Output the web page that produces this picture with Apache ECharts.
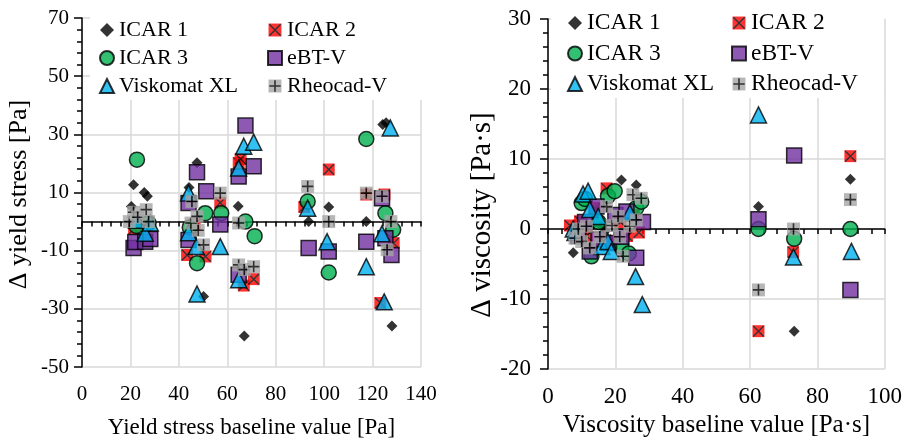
<!DOCTYPE html>
<html>
<head>
<meta charset="utf-8">
<script src="https://cdn.jsdelivr.net/npm/echarts@6/dist/echarts.min.js"></script>
<style>
  html, body { margin: 0; padding: 0; background: #fff; }
  #chart { width: 905px; height: 445px; }
</style>
</head>
<body>
<div id="chart"></div>
<script>
// Instrument names (legend order)
const instruments = ['ICAR 1', 'ICAR 2', 'ICAR 3', 'eBT-V', 'Viskomat XL', 'Rheocad-V'];

// Left panel: yield stress baseline [Pa] vs Δ yield stress [Pa]
const yieldIcar1 = [[20.4,5.2],[21.3,12.7],[25.7,10],[27,8.7],[44.2,11.7],[47.5,20.2],[50.2,-25.8],[64.5,5.3],[67,-39.3],[93.6,0],[101.9,5],[117.4,0],[124.2,33.4],[125.6,34],[128,-35.9]];
const yieldIcar2 = [[21.5,-2.5],[26,-1.5],[43.4,-11.5],[46.5,-1],[51,-12],[57.1,6.5],[64.7,20.2],[65.5,21.5],[66.8,-22],[70.9,-19.8],[91.8,5],[101.9,17.9],[117.4,9.3],[124.9,9.3],[123.2,-28],[128.7,-7.4]];
const yieldIcar3 = [[22.7,21.3],[22.5,-1.5],[27.5,-0.5],[44.5,-2],[47.5,-14.3],[50.9,2.9],[57.5,2.9],[67.5,0],[71.3,-5],[93.2,6.9],[101.9,-17.5],[117.4,28.4],[125.3,2.9],[128.5,-2.8]];
const yieldEbtv = [[21.3,-9.1],[22,-7],[26.1,-6.9],[28.2,-6],[44,6.4],[44,-6.3],[47.5,17],[51.3,10.4],[57.1,-1],[64.7,15.5],[64.7,-18.3],[67.5,33],[70.9,19],[93.6,-9.1],[101.9,-10.3],[117.4,-6.9],[123.9,8],[125.3,-5.7],[127.8,-11.5]];
const yieldViskomat = [[22.5,0.5],[26.1,-4],[28.2,-0.5],[44,9.8],[44,-3.8],[47.2,-8.6],[47.5,-24.9],[57.1,-8.6],[64.7,18.4],[64.7,-20],[66.8,25.9],[70.9,27.3],[93.2,4.6],[101.2,-6.9],[117.4,-15.5],[123.9,-4.2],[124.8,-27.6],[127.3,32.2]];
const yieldRheocad = [[19.5,0],[21.3,3.2],[23,1.5],[26.5,4.1],[27.5,0],[45.4,6.9],[45,-0.5],[47.5,1.8],[48,-3],[50.2,-8],[57.1,9.8],[64.7,-0.5],[64.7,-14.9],[67,-16.5],[70.9,-15.5],[93.2,12.1],[101.9,0],[117.4,9.8],[123.9,8.7],[126,-9.7],[127.6,0]];

// Right panel: viscosity baseline [Pa·s] vs Δ viscosity [Pa·s]
const viscIcar1 = [[7.5,-3.4],[10.5,-0.8],[11.5,0.8],[13,0.5],[15.9,0.4],[17,-0.3],[18.5,-1.5],[20,1.2],[21.8,7],[23.5,-0.5],[24.8,1.5],[26.2,6.3],[62.5,3.2],[73.1,-14.6],[89.8,7.1]];
const viscIcar2 = [[6.5,0.5],[9.5,1.1],[11.5,-1],[14,3],[17.4,5.8],[19,-2],[21.5,1],[23.5,-1],[25.5,2],[27,-0.5],[62.5,-14.6],[72.8,-3.3],[89.8,10.4]];
const viscIcar3 = [[10,3.7],[11,4.3],[12.9,-3.9],[15,1],[17.8,4.7],[19.8,5.4],[21.8,-2.5],[24,-3.5],[26.2,3],[27.7,3.9],[62.5,0],[73.1,-1.4],[89.8,0]];
const viscEbtv = [[9,-1],[11,1],[12.4,-3.2],[14.4,3.2],[15,-1.5],[18,-2],[20,2],[21.8,-1.1],[23.3,2.5],[26.2,-4.1],[28.2,1],[62.5,1.4],[73.1,10.5],[89.8,-8.7]];
const viscViskomat = [[7.5,0],[8,-0.5],[10.4,5],[11.9,5.4],[12.4,2.8],[14.9,1.8],[16,-2.5],[17.8,-1.8],[18.8,-3.2],[24.3,2.3],[26,-6.8],[28,-10.8],[62.5,16.3],[72.9,-4],[90.1,-3.2]];
const viscRheocad = [[8,-1.3],[9,0],[10,-1.8],[11.4,0.4],[12.4,-2.7],[15.4,-1.1],[17.4,3.2],[19,0.5],[20.8,1.8],[21.3,-1.1],[22.3,-3.9],[24.3,0.4],[25.2,4.9],[26.2,1.3],[27.7,4.4],[62.5,-8.7],[72.9,0],[89.8,4.2]];

// Axis tick values
const yieldXTicks = { min: 0, max: 140, interval: 20 };
const yieldYTicks = { min: -50, max: 70, interval: 20 };
const viscXTicks = { min: 0, max: 100, interval: 20 };
const viscYTicks = { min: -20, max: 30, interval: 10 };

const FONT = '"Liberation Serif", "Times New Roman", serif';

// Composite markers drawn as small SVG images
function svgSymbol(body) {
  const svg = '<svg xmlns="http://www.w3.org/2000/svg" width="26" height="26" viewBox="0 0 26 26">' + body + '</svg>';
  return 'image://data:image/svg+xml;charset=utf-8,' + encodeURIComponent(svg);
}
const crossMark = svgSymbol('<rect x="1" y="1" width="24" height="24" fill="#ff0000"/><path d="M2.5 2.5L23.5 23.5M23.5 2.5L2.5 23.5" stroke="#000" stroke-width="2.6"/>');
const plusMark = svgSymbol('<rect x="1" y="1" width="24" height="24" fill="#a6a6a6"/><path d="M13 2.5V23.5M2.5 13H23.5" stroke="#000" stroke-width="3"/>');

const markerLooks = {
  'ICAR 1': { symbol: 'diamond', symbolSize: 11, itemStyle: { color: '#000' } },
  'ICAR 2': { symbol: crossMark, symbolSize: 13, itemStyle: { color: '#ff0000' } },
  'ICAR 3': { symbol: 'circle', symbolSize: 15, itemStyle: { color: '#00b050', borderColor: '#000', borderWidth: 1.5 } },
  'eBT-V': { symbol: 'rect', symbolSize: 15, itemStyle: { color: '#7030a0', borderColor: '#000', borderWidth: 1.5 } },
  'Viskomat XL': { symbol: 'triangle', symbolSize: 16, itemStyle: { color: '#00b0f0', borderColor: '#000', borderWidth: 1.5 } },
  'Rheocad-V': { symbol: plusMark, symbolSize: 14, itemStyle: { color: '#a6a6a6' } }
};

const yieldSets = [yieldIcar1, yieldIcar2, yieldIcar3, yieldEbtv, yieldViskomat, yieldRheocad];
const viscSets = [viscIcar1, viscIcar2, viscIcar3, viscEbtv, viscViskomat, viscRheocad];

const series = [];
instruments.forEach((name, i) => {
  const look = markerLooks[name];
  series.push({ type: 'scatter', name, xAxisIndex: 0, yAxisIndex: 0, data: yieldSets[i], ...look });
  series.push({ type: 'scatter', name, xAxisIndex: 2, yAxisIndex: 1, data: viscSets[i], ...look });
});

const text = (size) => ({ fontFamily: FONT, fontSize: size, color: '#000' });
const gridLine = { show: true, lineStyle: { color: '#d9d9d9', width: 1.5 } };
const blackLine = { color: '#000', width: 1.5 };

// Bottom axis: labels + vertical grid lines only
function labelledXAxis(grid, ticks, title, p) {
  return {
    type: 'value', gridIndex: grid, position: 'bottom', ...ticks,
    axisLine: { show: false, onZero: false },
    axisTick: { show: false },
    axisLabel: { ...text(p.tick), margin: p.margin },
    splitLine: gridLine,
    name: title, nameLocation: 'middle', nameGap: p.gap,
    nameTextStyle: text(p.title)
  };
}
// Horizontal axis line crossing at zero with tick marks
function zeroXAxis(grid, ticks) {
  return {
    type: 'value', gridIndex: grid, position: 'bottom', ...ticks,
    axisLine: { show: true, onZero: true, lineStyle: blackLine },
    axisTick: { show: true, length: 5, lineStyle: blackLine },
    minorTick: { show: true, splitNumber: 5, length: 5, lineStyle: blackLine },
    axisLabel: { show: false },
    splitLine: { show: false }
  };
}
function valueYAxis(grid, ticks, title, p) {
  return {
    type: 'value', gridIndex: grid, ...ticks,
    axisLine: { show: true, onZero: false, lineStyle: blackLine },
    axisTick: { show: true, length: 8, lineStyle: blackLine },
    minorTick: { show: true, splitNumber: 5, length: 5, lineStyle: blackLine },
    axisLabel: { ...text(p.tick), margin: p.margin },
    splitLine: gridLine,
    name: title, nameLocation: 'middle', nameGap: p.gap,
    nameTextStyle: { ...text(p.title), padding: p.pad }
  };
}

function legendColumn(left, top, names, gap, size) {
  return {
    orient: 'vertical', left, top, data: names,
    itemWidth: 14, itemHeight: 14, itemGap: gap, padding: 0,
    selectedMode: false, textStyle: text(size)
  };
}

const chart = echarts.init(document.getElementById('chart'), null, { renderer: 'canvas' });
chart.setOption({
  animation: false,
  backgroundColor: '#fff',
  grid: [
    { left: 82, right: 484, top: 18, bottom: 78 },
    { left: 548, right: 19, top: 19, bottom: 76 }
  ],
  xAxis: [
    labelledXAxis(0, yieldXTicks, 'Yield stress baseline value [Pa]', { tick: 21, margin: 17, title: 23, gap: 49 }),
    zeroXAxis(0, yieldXTicks),
    labelledXAxis(1, viscXTicks, 'Viscosity baseline value [Pa·s]', { tick: 23, margin: 16, title: 25, gap: 43 }),
    zeroXAxis(1, viscXTicks)
  ],
  yAxis: [
    valueYAxis(0, yieldYTicks, 'Δ yield stress [Pa]', { tick: 21, margin: 13, title: 26, gap: 50, pad: [0, 4, 0, 0] }),
    valueYAxis(1, viscYTicks, 'Δ viscosity [Pa·s]', { tick: 23, margin: 17, title: 29, gap: 40, pad: [0, 42, 0, 0] })
  ],
  legend: [
    legendColumn(99, 19, ['ICAR 1', 'ICAR 3', 'Viskomat XL'], 6, 22),
    legendColumn(267, 19, ['ICAR 2', 'eBT-V', 'Rheocad-V'], 6, 22),
    legendColumn(567, 11, ['ICAR 1', 'ICAR 3', 'Viskomat XL'], 6.5, 23.5),
    legendColumn(731, 11, ['ICAR 2', 'eBT-V', 'Rheocad-V'], 6.5, 23.5)
  ],
  // white legend boxes over the plot background
  graphic: [
    { type: 'rect', z: 1, silent: true, shape: { x: 90, y: 16, width: 333, height: 84 }, style: { fill: '#fff' } },
    { type: 'rect', z: 1, silent: true, shape: { x: 551, y: 16, width: 333, height: 82 }, style: { fill: '#fff' } }
  ],
  series
});
</script>
</body>
</html>
